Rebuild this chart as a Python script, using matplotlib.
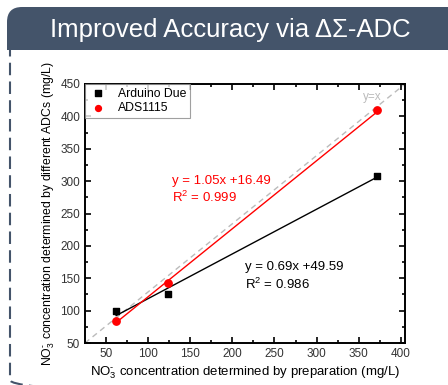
import numpy as np
import matplotlib.pyplot as plt
from matplotlib.patches import FancyBboxPatch, Rectangle
from matplotlib.ticker import MultipleLocator

plt.rcParams['font.family'] = ['Liberation Sans', 'DejaVu Sans']
plt.rcParams['mathtext.fontset'] = 'custom'
plt.rcParams['mathtext.rm'] = 'Liberation Sans'

# data
prep = [62, 124, 372]
due = [100, 125, 308]
ads = [84, 142, 410]
due_fit = (0.69, 49.59)
ads_fit = (1.05, 16.49)

fig = plt.figure(figsize=(4.48, 3.85), dpi=100)

# slide background in pixel coords
bg = fig.add_axes([0, 0, 1, 1])
bg.set_xlim(0, 448)
bg.set_ylim(385, 0)
bg.axis('off')
head = FancyBboxPatch((7, 7), 460, 70, boxstyle='round,pad=0,rounding_size=15',
                      fc='#44546A', ec='none', zorder=1)
bg.add_patch(head)
bg.add_patch(Rectangle((0, 50), 448, 40, fc='white', ec='none', zorder=2))
border = FancyBboxPatch((10, 30), 450, 365, boxstyle='round,pad=0,rounding_size=15',
                        fc='none', ec='#44546A', lw=1.5, ls=(0, (6, 3)), zorder=3)
bg.add_patch(border)
bg.text(230, 30, 'Improved Accuracy via ΔΣ-ADC', color='white', fontsize=18.5,
        ha='center', va='center', zorder=5)

ax = fig.add_axes([85/448, 42/385, 320/448, 259/385])
ax.set_xlim(25, 405)
ax.set_ylim(50, 450)

# y = x reference (diagonal of the frame)
ax.plot([0, 1], [0, 1], transform=ax.transAxes, ls=(0, (4, 3)), color='#bbbbbb', lw=1, zorder=1)
ax.text(355, 425, 'y=x', color='#bbbbbb', fontsize=8.5)

xf = np.array([prep[0], prep[-1]])
ax.plot(xf, due_fit[0]*xf + due_fit[1], color='black', lw=1, zorder=2)
ax.plot(xf, ads_fit[0]*xf + ads_fit[1], color='red', lw=1, zorder=2)
ax.scatter(prep, due, marker='s', s=22, color='black', label='Arduino Due', zorder=3)
ax.scatter(prep, ads, marker='o', s=28, color='red', label='ADS1115', zorder=3)

ax.text(128, 296, 'y = 1.05x +16.49', color='red', fontsize=9.5)
ax.text(128, 268, 'R$^2$ = 0.999', color='red', fontsize=9.5)
ax.text(215, 162, 'y = 0.69x +49.59', color='black', fontsize=9.5)
ax.text(215, 134, 'R$^2$ = 0.986', color='black', fontsize=9.5)

ax.xaxis.set_major_locator(MultipleLocator(50))
ax.xaxis.set_minor_locator(MultipleLocator(25))
ax.yaxis.set_major_locator(MultipleLocator(50))
ax.yaxis.set_minor_locator(MultipleLocator(25))
ax.tick_params(which='both', direction='in', top=True, right=True, labelsize=8.5, width=1.2,
               labelcolor='#333333')
ax.tick_params(which='major', length=4)
ax.tick_params(which='minor', length=2)
for s in ax.spines.values():
    s.set_linewidth(1.4)

no3 = r'NO$_3^{\text{-}}$'
ax.set_xlabel(no3 + ' concentration determined by preparation (mg/L)', fontsize=9.5, labelpad=3)
ax.set_ylabel(no3 + ' concentration determined by different ADCs (mg/L)', fontsize=8.8, labelpad=2)

leg = ax.legend(loc='upper left', fontsize=8.8, frameon=True, fancybox=False,
                borderaxespad=0, handletextpad=0.8, borderpad=0.3, labelspacing=0.2,
                handlelength=1.6, markerscale=0.8)
leg.get_frame().set_edgecolor('#888888')
leg.get_frame().set_linewidth(0.8)

fig.savefig('out.png', dpi=100)
